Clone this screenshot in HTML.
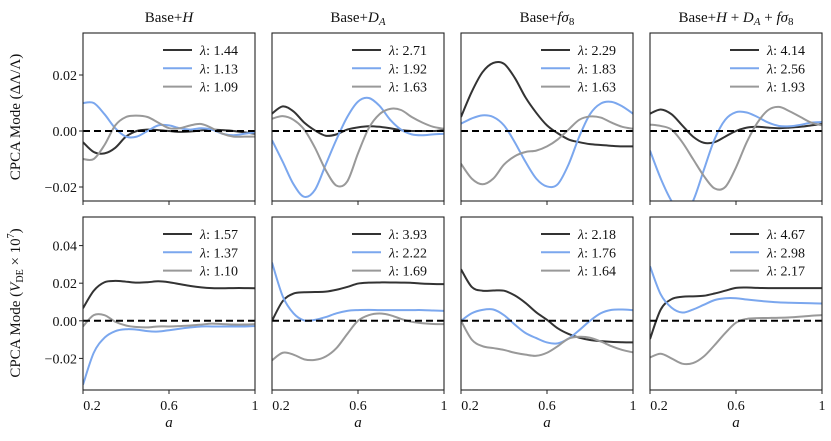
<!DOCTYPE html>
<html><head><meta charset="utf-8"><style>
body{margin:0;background:#fff}
svg{display:block;font-family:"Liberation Serif",serif}
</style></head><body>
<svg id="fig" width="831" height="441" viewBox="0 0 831 441" xmlns="http://www.w3.org/2000/svg"></svg>
<script>
const aGrid=[0.2,0.25,0.3,0.35,0.4,0.45,0.5,0.55,0.6,0.65,0.7,0.75,0.8,0.85,0.9,0.95,1.0];
const titles=["Base+H","Base+D_A","Base+fσ8","Base+H + D_A + fσ8"];
const lambdasTop=[["1.44","1.13","1.09"],["2.71","1.92","1.63"],["2.29","1.83","1.63"],["4.14","2.56","1.93"]];
const lambdasBot=[["1.57","1.37","1.10"],["3.93","2.22","1.69"],["2.18","1.76","1.64"],["4.67","2.98","2.17"]];
const yTicksTop=[-0.02,0,0.02];
const yTicksBot=[-0.02,0,0.02,0.04];
const xTicks=[0.2,0.6,1];
const xTickLabels=["0.2","0.6","1"];
// Top row series
const t1k=[-0.004,-0.0075,-0.008,-0.006,-0.002,0,0.0005,0.0003,0,-0.0003,-0.0002,0.0002,0.0005,0.0003,0,-0.0005,-0.001];
const t1b=[0.010,0.010,0.006,0.001,-0.002,-0.002,0,0.002,0.002,0.001,0.0005,0.001,0.0005,-0.001,-0.0015,-0.001,-0.0005];
const t1g=[-0.010,-0.010,-0.005,0.002,0.005,0.0055,0.005,0.003,0.001,0.001,0.002,0.0025,0.001,-0.001,-0.002,-0.002,-0.002];
const t2k=[0.0062,0.0088,0.007,0.003,0.0002,-0.0017,-0.0012,0.0005,0.0013,0.0017,0.0015,0.001,0.0003,0,0,0,0.0003];
const t2b=[-0.0033,-0.011,-0.019,-0.0235,-0.021,-0.012,-0.003,0.005,0.0105,0.0118,0.009,0.004,0.0005,-0.0012,-0.0015,-0.0012,-0.001];
const t2g=[0.0044,0.0053,0.004,0.0005,-0.006,-0.014,-0.0195,-0.018,-0.008,0.001,0.006,0.0079,0.0075,0.005,0.003,0.0015,0.0008];
const t3k=[0.005,0.014,0.021,0.0243,0.024,0.019,0.012,0.0065,0.002,-0.0008,-0.003,-0.004,-0.0047,-0.005,-0.0053,-0.0055,-0.0055];
const t3b=[0.0026,0.0045,0.0056,0.005,0.002,-0.004,-0.011,-0.017,-0.0198,-0.019,-0.012,-0.002,0.006,0.0098,0.0104,0.0088,0.0062];
const t3g=[-0.0117,-0.017,-0.019,-0.017,-0.012,-0.009,-0.0075,-0.007,-0.0055,-0.003,0.0005,0.004,0.0052,0.0048,0.003,0.0015,0.0008];
const t4k=[0.0062,0.0077,0.006,0.002,-0.002,-0.0042,-0.004,-0.002,0,0.0012,0.0015,0.0012,0.001,0.0012,0.0015,0.002,0.0025];
const t4b=[-0.007,-0.017,-0.025,-0.030,-0.025,-0.014,-0.003,0.004,0.0067,0.0066,0.005,0.003,0.0018,0.0017,0.0022,0.003,0.0032];
const t4g=[0.0023,0.0018,0.0005,-0.004,-0.01,-0.016,-0.0205,-0.02,-0.013,-0.004,0.003,0.0075,0.0086,0.007,0.005,0.003,0.002];
// Bottom row series
const b1k=[0.0067,0.016,0.0205,0.0212,0.0208,0.0203,0.0205,0.021,0.0205,0.0195,0.0185,0.0178,0.0174,0.0173,0.0174,0.0174,0.0173];
const b1b=[-0.034,-0.017,-0.009,-0.0055,-0.0045,-0.0047,-0.0055,-0.0057,-0.005,-0.0042,-0.0035,-0.003,-0.003,-0.003,-0.003,-0.003,-0.0028];
const b1g=[-0.003,0.003,0.003,-0.0005,-0.0025,-0.0033,-0.0035,-0.003,-0.003,-0.0028,-0.0025,-0.002,-0.0015,-0.0018,-0.002,-0.002,-0.0018];
const b2k=[0,0.0105,0.0145,0.0152,0.0153,0.0155,0.0165,0.018,0.0198,0.0203,0.0204,0.0204,0.0203,0.0202,0.0198,0.0196,0.0195];
const b2b=[0.031,0.013,0.004,0.0002,0.0005,0.002,0.004,0.0053,0.0057,0.0058,0.0057,0.0057,0.0057,0.0057,0.0057,0.0055,0.0053];
const b2g=[-0.021,-0.017,-0.018,-0.0205,-0.0208,-0.019,-0.0145,-0.007,0,0.003,0.0039,0.003,0.001,-0.0005,-0.0013,-0.0017,-0.0018];
const b3k=[0.0274,0.018,0.016,0.0161,0.016,0.0135,0.0095,0.0045,0.0005,-0.004,-0.007,-0.009,-0.0102,-0.0108,-0.0112,-0.0114,-0.0115];
const b3b=[0,0.004,0.0058,0.006,0.003,-0.002,-0.0065,-0.0092,-0.0115,-0.012,-0.0095,-0.005,0,0.004,0.0058,0.006,0.0057];
const b3g=[0,-0.01,-0.0135,-0.0145,-0.0155,-0.017,-0.018,-0.0186,-0.017,-0.0135,-0.0095,-0.0085,-0.009,-0.011,-0.0135,-0.0155,-0.0168];
const b4k=[-0.0097,0.006,0.0115,0.0128,0.013,0.0133,0.0145,0.016,0.0175,0.0177,0.0175,0.0174,0.0174,0.0174,0.0174,0.0174,0.0174];
const b4b=[0.029,0.014,0.007,0.0044,0.006,0.0085,0.011,0.012,0.012,0.0113,0.0107,0.0102,0.0098,0.0096,0.0095,0.0093,0.0092];
const b4g=[-0.0195,-0.0175,-0.02,-0.0228,-0.0225,-0.019,-0.013,-0.0065,-0.001,0.001,0.0014,0.0015,0.0016,0.0018,0.0022,0.0027,0.003];

const topSeries=[[t1k,t1b,t1g],[t2k,t2b,t2g],[t3k,t3b,t3g],[t4k,t4b,t4g]];
const botSeries=[[b1k,b1b,b1g],[b2k,b2b,b2g],[b3k,b3b,b3g],[b4k,b4b,b4g]];
const colors=["#333333","#7ba7ee","#999999"];
const NS="http://www.w3.org/2000/svg";
const svg=document.getElementById('fig');
function mk(tag,attrs,parent){const e=document.createElementNS(NS,tag);for(const k in attrs)e.setAttribute(k,attrs[k]);(parent||svg).appendChild(e);return e;}
const colX=[83,272,461,650], W=172;
const rows=[{top:33,bot:201,ymax:0.035,ymin:-0.025,ticks:yTicksTop,series:topSeries,lams:lambdasTop,leg:50},
            {top:217,bot:390,ymax:0.0552,ymin:-0.0368,ticks:yTicksBot,series:botSeries,lams:lambdasBot,leg:234}];
function path(pts){let d="M"+pts[0][0]+","+pts[0][1];
 for(let i=0;i<pts.length-1;i++){const p0=pts[Math.max(0,i-1)],p1=pts[i],p2=pts[i+1],p3=pts[Math.min(pts.length-1,i+2)];
  const c1=[p1[0]+(p2[0]-p0[0])/6,p1[1]+(p2[1]-p0[1])/6],c2=[p2[0]-(p3[0]-p1[0])/6,p2[1]-(p3[1]-p1[1])/6];
  d+=" C"+c1[0].toFixed(2)+","+c1[1].toFixed(2)+" "+c2[0].toFixed(2)+","+c2[1].toFixed(2)+" "+p2[0].toFixed(2)+","+p2[1].toFixed(2);}
 return d;}
function titleText(t,x){
 const e=mk('text',{x:x,y:22,'font-size':15,'text-anchor':'middle',fill:'#111'});
 
 
 const parts={"Base+H":[["Base+",""],["H","i"]],"Base+D_A":[["Base+",""],["D","i"],["A","si"]],
  "Base+fσ8":[["Base+",""],["fσ","i"],["8","s"]],
  "Base+H + D_A + fσ8":[["Base+",""],["H","i"],[" + ",""],["D","i"],["A","si"],[" + ",""],["fσ","i"],["8","s"]]}[t];
 let low=false;
 parts.forEach(p=>{const s=mk('tspan',{},e);s.textContent=p[0];
  if(p[1].includes('i'))s.setAttribute('font-style','italic');
  if(p[1].includes('s')){s.setAttribute('font-size',11);if(!low){s.setAttribute('dy',3);low=true;}}
  else if(low){s.setAttribute('dy',-3);low=false;}});
}
rows.forEach((r,ri)=>{
 const ys=v=>r.bot-(v-r.ymin)/(r.ymax-r.ymin)*(r.bot-r.top);
 colX.forEach((x0,ci)=>{
  const xs=a=>x0+(a-0.2)/0.8*W;
  const g=mk('g',{});
  
  
  const cid='clip'+ri+ci;
  const cp=mk('clipPath',{id:cid},g);mk('rect',{x:x0,y:r.top,width:W,height:r.bot-r.top},cp);
  const pg=mk('g',{'clip-path':'url(#'+cid+')'},g);
  r.series[ci].forEach((arr,si)=>{
   const pts=arr.map((v,i)=>[xs(aGrid[i]),ys(v)]);
   const p=mk('path',{d:path(pts),fill:'none',stroke:colors[si],'stroke-width':2},pg);
   
   
  });
  const z=mk('line',{x1:x0,x2:x0+W,y1:ys(0),y2:ys(0),stroke:'#000','stroke-width':2,'stroke-dasharray':'7,4'},pg);
  
  
  const fr=mk('rect',{x:x0,y:r.top,width:W,height:r.bot-r.top,fill:'none',stroke:'#222','stroke-width':1.1},g);
  
  
  xTicks.forEach((t,ti)=>{
   mk('line',{x1:xs(t),x2:xs(t),y1:r.bot,y2:r.bot+4,stroke:'#222','stroke-width':1},g);
   if(ri===1){const tx=mk('text',{x:xs(t)+(ti===0?9:0),y:r.bot+20,'font-size':14,'text-anchor':'middle',fill:'#111'},g);
    tx.textContent=xTickLabels[ti];
    
    }
  });
  if(ri===1){const xl=mk('text',{x:x0+W/2,y:427,'font-size':15,'font-style':'italic','text-anchor':'middle',fill:'#111'},g);
   xl.textContent='a';
   
   }
  if(ci===0){r.ticks.forEach(t=>{
   mk('line',{x1:x0-4,x2:x0,y1:ys(t),y2:ys(t),stroke:'#222','stroke-width':1},g);
   const tx=mk('text',{x:x0-6,y:ys(t)+5,'font-size':14,'text-anchor':'end',fill:'#111'},g);
   tx.textContent=(t<0?'−':'')+Math.abs(t).toFixed(2);
   
   });}
  const lg=mk('g',{},g);
  
  
  r.lams[ci].forEach((l,li)=>{
   const y=r.leg+li*18.3;
   mk('line',{x1:x0+W-92,x2:x0+W-63,y1:y,y2:y,stroke:colors[li],'stroke-width':2},lg);
   const tx=mk('text',{x:x0+W-55,y:y+5,'font-size':14,fill:'#111'},lg);
   
   
   const s1=mk('tspan',{'font-style':'italic'},tx);s1.textContent='λ';
   const s2=mk('tspan',{},tx);s2.textContent=': '+l;
  });
  if(ri===0)titleText(titles[ci],x0+W/2);
 });
});
const yl1=mk('text',{x:0,y:0,'font-size':15,'text-anchor':'middle',fill:'#111',transform:'translate(20,117) rotate(-90)'});


yl1.textContent='CPCA Mode (ΔΛ/Λ)';
const yl2=mk('text',{x:0,y:0,'font-size':15,'text-anchor':'middle',fill:'#111',transform:'translate(20,303) rotate(-90)'});


const a1=mk('tspan',{},yl2);a1.textContent='CPCA Mode (';
const a2=mk('tspan',{'font-style':'italic'},yl2);a2.textContent='V';
const a3=mk('tspan',{'font-size':10,dy:3},yl2);a3.textContent='DE';
const a4=mk('tspan',{dy:-3},yl2);a4.textContent=' × 10';
const a5=mk('tspan',{'font-size':10,dy:-6},yl2);a5.textContent='7';
const a6=mk('tspan',{dy:6},yl2);a6.textContent=')';
</script>
</body></html>
